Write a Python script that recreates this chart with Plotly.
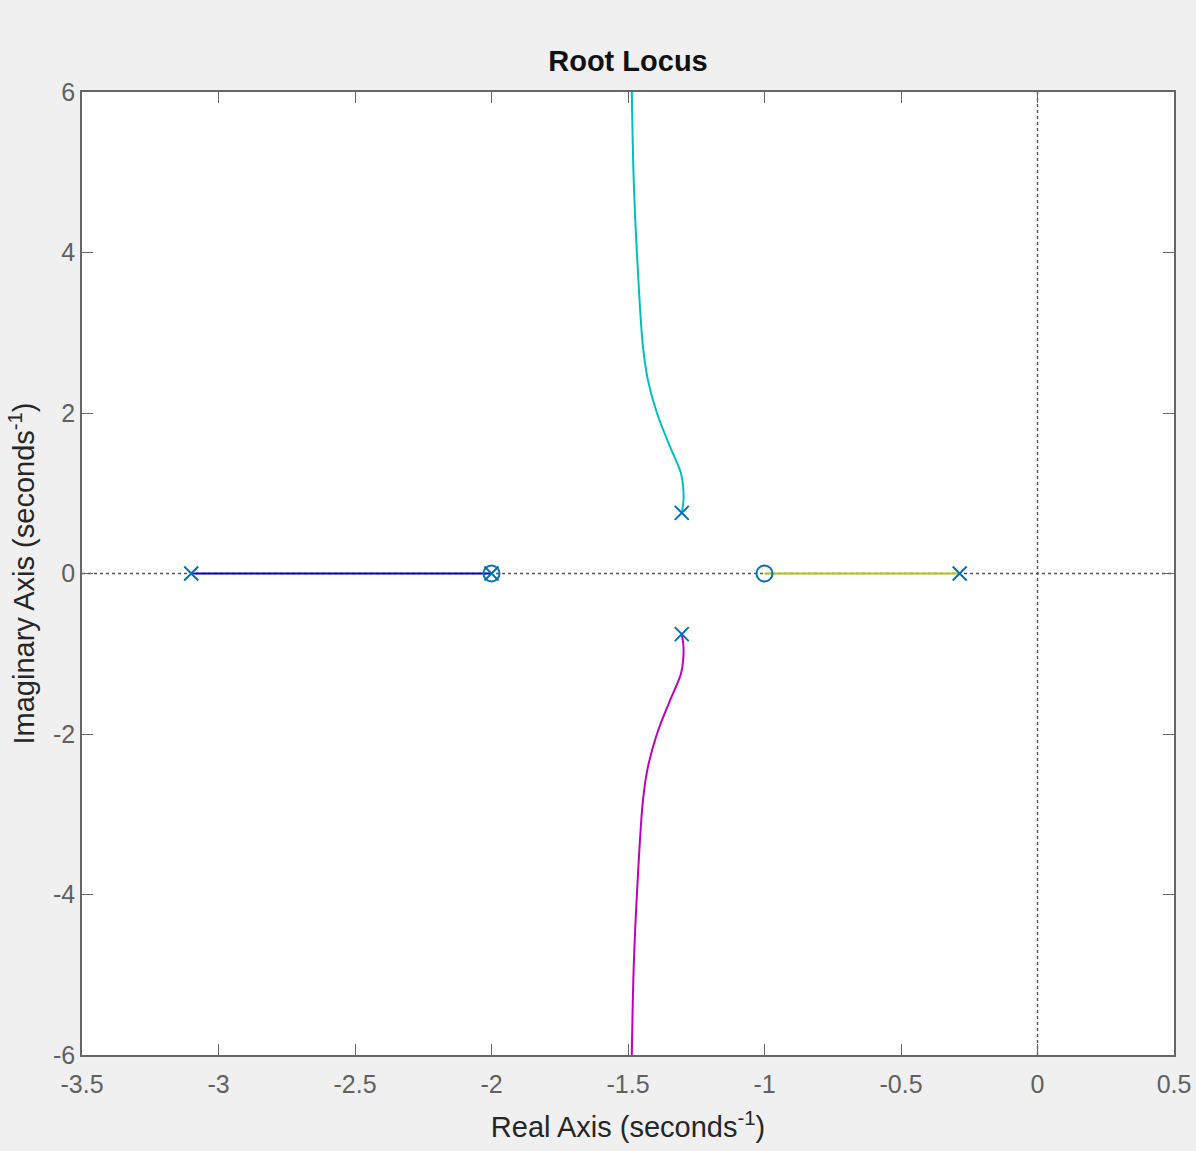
import plotly.graph_objects as go

# Branch data
blue_x = [-3.10, -2.00]
blue_y = [0.0, 0.0]
yellow_x = [-1.00, -0.285]
yellow_y = [0.0, 0.0]
cyan_x = [-1.303, -1.297, -1.298, -1.306, -1.346, -1.394, -1.427, -1.445, -1.465, -1.479, -1.486]
cyan_y = [0.755, 0.90, 1.08, 1.25, 1.58, 2.00, 2.41, 2.82, 3.85, 4.90, 6.00]
magenta_x = [-1.303, -1.297, -1.298, -1.306, -1.346, -1.394, -1.427, -1.445, -1.465, -1.479, -1.486]
magenta_y = [-0.755, -0.90, -1.08, -1.25, -1.58, -2.00, -2.41, -2.82, -3.85, -4.90, -6.00]

pole_re = [-3.10, -2.00, -1.303, -1.303, -0.285]
pole_im = [0.0, 0.0, 0.755, -0.755, 0.0]
zero_re = [-2.00, -1.00]
zero_im = [0.0, 0.0]

x_ticks = [-3.5, -3, -2.5, -2, -1.5, -1, -0.5, 0, 0.5]
y_ticks = [-6, -4, -2, 0, 2, 4, 6]

FONT = "Liberation Sans, Arial, sans-serif"

fig = go.Figure()

# dotted reference axes
fig.add_trace(go.Scatter(x=[-3.5, 0.5], y=[0, 0], mode="lines",
                         line=dict(color="#555555", width=1.4, dash="dot"), hoverinfo="skip"))
fig.add_trace(go.Scatter(x=[0, 0], y=[-6, 6], mode="lines",
                         line=dict(color="#555555", width=1.4, dash="dot"), hoverinfo="skip"))

fig.add_trace(go.Scatter(x=blue_x, y=blue_y, mode="lines", line=dict(color="#0000cd", width=2)))
fig.add_trace(go.Scatter(x=yellow_x, y=yellow_y, mode="lines", line=dict(color="#bfbf10", width=2)))
fig.add_trace(go.Scatter(x=cyan_x, y=cyan_y, mode="lines", line=dict(color="#00bfbf", width=2, shape="spline")))
fig.add_trace(go.Scatter(x=magenta_x, y=magenta_y, mode="lines", line=dict(color="#bf00bf", width=2, shape="spline")))

fig.add_trace(go.Scatter(x=pole_re, y=pole_im, mode="markers",
                         marker=dict(symbol="x-thin", size=14, line=dict(color="#0072BD", width=2))))
fig.add_trace(go.Scatter(x=zero_re, y=zero_im, mode="markers",
                         marker=dict(symbol="circle-open", size=16, color="#0072BD", line=dict(width=2))))

axis_common = dict(
    showline=True, linecolor="#666666", linewidth=1.6, mirror="allticks",
    ticks="inside", ticklen=11, tickcolor="#666666", tickwidth=1.3,
    showgrid=False, zeroline=False, automargin=False,
    tickfont=dict(family=FONT, size=25, color="#606060"),
)

fig.update_xaxes(range=[-3.5, 0.5], tickvals=x_ticks, ticktext=[f"{v:g}" for v in x_ticks],
                 ticklabelstandoff=6,
                 title=dict(text="Real Axis (seconds<sup>-1</sup>)", standoff=20,
                            font=dict(family=FONT, size=29, color="#262626")),
                 **axis_common)
fig.update_yaxes(range=[-6, 6], tickvals=y_ticks, ticktext=[f"{v:g}" for v in y_ticks],
                 title=dict(text="Imaginary Axis (seconds<sup>-1</sup>)", standoff=10,
                            font=dict(family=FONT, size=29, color="#262626")),
                 **axis_common)

fig.update_layout(
    width=1196, height=1151,
    margin=dict(l=82, r=22, t=92, b=96),
    paper_bgcolor="#f0f0f0", plot_bgcolor="#ffffff",
    showlegend=False,
    title=dict(text="<b>Root Locus</b>", x=0.5, xanchor="center", y=1 - 61 / 1151, yanchor="middle",
               xref="paper",
               font=dict(family=FONT, size=29, color="#111111")),
)

fig.write_html("out.html")
